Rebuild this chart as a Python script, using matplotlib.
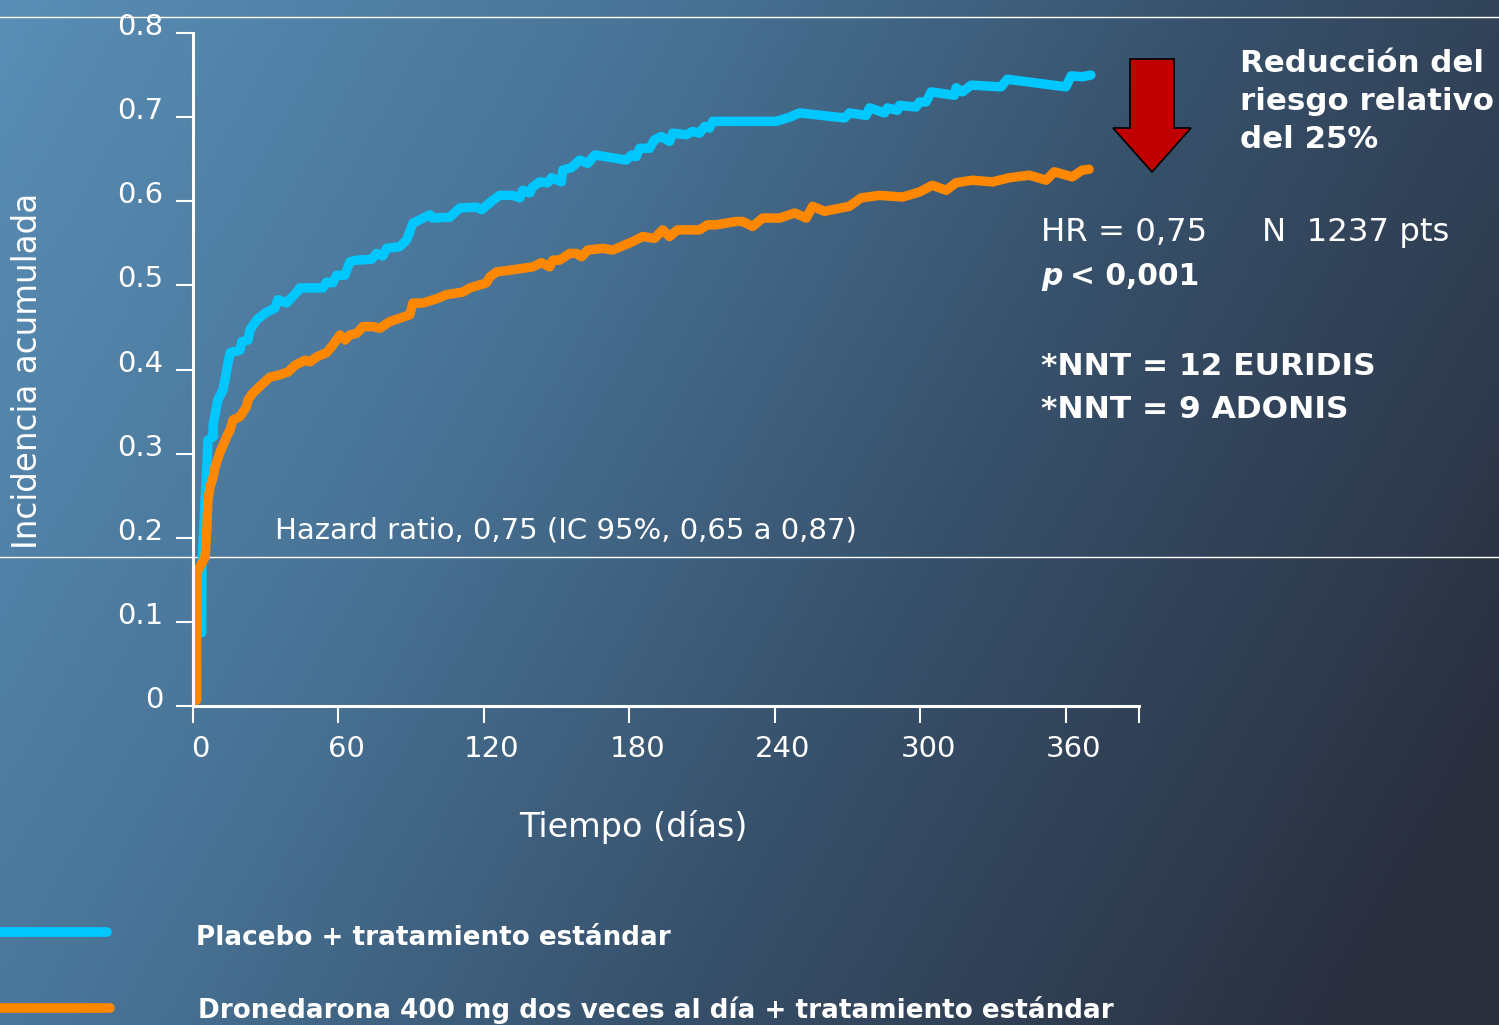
import numpy as np
import matplotlib
matplotlib.use('Agg')
import matplotlib.pyplot as plt
from matplotlib.patches import Polygon
from matplotlib.transforms import ScaledTranslation

# cumulative incidence
placebo_days = [3.7, 3.8, 5.1, 5.8, 6.3, 8.4, 8.4, 10.4,
                12.5, 15.4, 19.5, 20.2, 22.8, 23.6, 26.4, 29.8, 33.9, 35.1,
                38.7, 42.9, 44.2, 53.7, 55.2, 57.8, 59.3, 62.7, 64.8, 67.6,
                73.8, 75.8, 78.4, 79.9, 85.4, 88.2, 90.8, 93.7, 97.8, 99.0,
                106.0, 110.1, 117.0, 119.1, 123.7, 126.6, 132.0, 134.9, 136.1, 139.0,
                140.2, 143.1, 146.4, 147.9, 152.0, 152.6, 156.2, 159.6, 162.9, 165.8,
                178.8, 180.9, 182.9, 184.3, 188.4, 190.4, 193.2, 196.6, 197.9, 203.5,
                206.1, 209.0, 211.1, 213.1, 214.4, 222.6, 240.6, 246.2, 250.2, 268.8,
                270.8, 277.7, 279.1, 285.3, 286.5, 290.6, 291.4, 298.3, 299.7, 302.4,
                304.5, 314.1, 314.8, 317.4, 321.0, 333.3, 335.9, 360.1, 362.2, 366.8,
                370.4]
placebo_inc = [0.087, 0.165, 0.245, 0.284, 0.316, 0.320, 0.334, 0.364,
               0.376, 0.420, 0.423, 0.433, 0.435, 0.447, 0.459, 0.467, 0.473, 0.483,
               0.479, 0.492, 0.497, 0.497, 0.504, 0.503, 0.512, 0.512, 0.528, 0.530,
               0.531, 0.538, 0.535, 0.544, 0.546, 0.554, 0.574, 0.578, 0.584, 0.580,
               0.581, 0.592, 0.593, 0.590, 0.601, 0.607, 0.607, 0.604, 0.613, 0.610,
               0.617, 0.623, 0.622, 0.628, 0.623, 0.637, 0.640, 0.649, 0.645, 0.655,
               0.649, 0.655, 0.653, 0.663, 0.663, 0.673, 0.677, 0.671, 0.681, 0.679,
               0.683, 0.681, 0.689, 0.687, 0.695, 0.695, 0.695, 0.700, 0.705, 0.699,
               0.705, 0.702, 0.711, 0.705, 0.711, 0.708, 0.714, 0.712, 0.718, 0.718,
               0.730, 0.726, 0.735, 0.730, 0.738, 0.736, 0.745, 0.736, 0.749, 0.748,
               0.750]

drone_days = [1.6, 1.6, 5.1, 5.8, 6.3, 7.1, 8.4, 9.2, 11.2, 14.0,
              15.4, 16.6, 19.5, 22.2, 22.8, 24.8, 28.4, 31.9, 35.1, 39.3,
              42.2, 46.3, 48.3, 51.1, 55.2, 57.3, 60.7, 62.8, 64.8, 67.6,
              70.2, 74.3, 77.2, 81.3, 89.5, 90.8, 94.9, 100.5, 104.7, 111.4,
              114.3, 121.1, 122.5, 125.3, 130.7, 140.2, 143.8, 147.2, 148.5, 151.3,
              155.5, 158.2, 160.3, 162.9, 169.1, 173.2, 181.4, 185.5, 190.5, 193.8,
              196.6, 199.9, 209.0, 212.3, 215.9, 224.1, 226.7, 230.9, 235.0, 242.0,
              248.2, 253.0, 255.6, 260.5, 270.8, 275.6, 283.2, 292.7, 299.7, 305.0,
              310.7, 314.8, 321.5, 329.8, 336.8, 345.0, 351.9, 355.3, 362.7, 366.8,
              369.6]
drone_inc = [0.007, 0.158, 0.177, 0.209, 0.245, 0.260, 0.272, 0.284, 0.301, 0.320,
             0.328, 0.340, 0.344, 0.356, 0.364, 0.372, 0.382, 0.391, 0.393, 0.397,
             0.405, 0.411, 0.409, 0.415, 0.420, 0.427, 0.441, 0.435, 0.441, 0.443,
             0.451, 0.451, 0.449, 0.457, 0.465, 0.479, 0.479, 0.484, 0.489, 0.492,
             0.497, 0.503, 0.510, 0.516, 0.518, 0.522, 0.527, 0.522, 0.530, 0.530,
             0.538, 0.538, 0.534, 0.542, 0.544, 0.542, 0.552, 0.558, 0.556, 0.566,
             0.558, 0.566, 0.566, 0.572, 0.572, 0.576, 0.576, 0.570, 0.580, 0.580,
             0.586, 0.580, 0.594, 0.588, 0.594, 0.604, 0.607, 0.605, 0.611, 0.619,
             0.613, 0.622, 0.625, 0.623, 0.628, 0.631, 0.625, 0.635, 0.629, 0.637,
             0.638]

x_ticks = [0, 60, 120, 180, 240, 300, 360]
y_ticks = [0, 0.1, 0.2, 0.3, 0.4, 0.5, 0.6, 0.7, 0.8]
y_tick_labels = ['0', '0.1', '0.2', '0.3', '0.4', '0.5', '0.6', '0.7', '0.8']

BLUE = '#00c8ff'
ORANGE = '#ff8800'
W, H = 1499, 1025

plt.rcParams['font.family'] = 'DejaVu Sans'


def fx(px):
    return px / W


def fy(py):
    return 1 - py / H


fig = plt.figure(figsize=(W / 100, H / 100), dpi=100)

# background gradient (steel blue top-left -> dark slate bottom-right)
bg = fig.add_axes([0, 0, 1, 1], zorder=-1)
bg.axis('off')
xx, yy = np.meshgrid(np.linspace(0, 1, 300), np.linspace(0, 1, 205))
t = np.clip(0.78 * xx + 0.3 * yy, 0, 1)
stops = [0, 0.35, 0.65, 1]
r = np.interp(t, stops, [90, 72, 55, 42])
g = np.interp(t, stops, [142, 115, 80, 47])
b = np.interp(t, stops, [182, 150, 106, 62])
bg.imshow(np.dstack([r, g, b]) / 255, aspect='auto', extent=[0, 1, 0, 1])
bg.set_xlim(0, 1)
bg.set_ylim(0, 1)
bg.axhline(fy(17), color='white', lw=1)
bg.axhline(fy(557), color='white', lw=1)

# red arrow
arrow = [(1130, 59), (1174, 59), (1174, 128), (1191, 128), (1152, 172),
         (1113, 128), (1130, 128)]
bg.add_patch(Polygon([(fx(a), fy(c)) for a, c in arrow], closed=True,
                     facecolor='#c00000', edgecolor='black', lw=1.2))

# legend lines
bg.plot([0, fx(107)], [fy(932), fy(932)], color=BLUE, lw=7, solid_capstyle='round')
bg.plot([0, fx(110)], [fy(1008), fy(1008)], color=ORANGE, lw=7, solid_capstyle='round')

ax = fig.add_axes([fx(192.7), fy(706), fx(1138.5) - fx(192.7), fy(33) - fy(706)], zorder=1)
ax.patch.set_alpha(0)
ax.plot(placebo_days, placebo_inc, color=BLUE, lw=6.8, solid_capstyle='round',
        solid_joinstyle='round', clip_on=False)
ax.plot(drone_days, drone_inc, color=ORANGE, lw=6.8, solid_capstyle='round',
        solid_joinstyle='round', clip_on=False)

ax.set_xlim(0, 390)
ax.set_ylim(0, 0.8)
ax.set_xticks(x_ticks + [390])
ax.set_xticklabels([str(v) for v in x_ticks] + [''])
ax.set_yticks(y_ticks)
ax.set_yticklabels(y_tick_labels)
for s in ['top', 'right']:
    ax.spines[s].set_visible(False)
for s in ['left', 'bottom']:
    ax.spines[s].set_color('white')
    ax.spines[s].set_linewidth(2.2)
ax.tick_params(colors='white', length=12, width=1.5, direction='out', pad=9, labelsize=21)

up = ScaledTranslation(0, 9 / 100, fig.dpi_scale_trans)
for lbl in ax.get_yticklabels():
    lbl.set_transform(lbl.get_transform() + up)
right = ScaledTranslation(8 / 100, 0, fig.dpi_scale_trans)
for lbl in ax.get_xticklabels():
    lbl.set_transform(lbl.get_transform() + right)

# axis titles
fig.text(fx(28), fy(371), 'Incidencia acumulada', rotation=90, color='white',
         fontsize=23.5, ha='center', va='center')
fig.text(fx(633), fy(837), 'Tiempo (días)', color='white', fontsize=24,
         ha='center', va='baseline')
fig.text(fx(275), fy(539), 'Hazard ratio, 0,75 (IC 95%, 0,65 a 0,87)', color='white',
         fontsize=21, va='baseline')

# annotations on the right
for txt, base in [('Reducción del', 72), ('riesgo relativo', 110.5), ('del 25%', 148.5)]:
    fig.text(fx(1240), fy(base), txt, color='white', fontsize=22.2,
             fontweight='bold', va='baseline')
fig.text(fx(1041), fy(240.7), 'HR = 0,75', color='white', fontsize=23.3, va='baseline')
fig.text(fx(1262), fy(240.7), 'N  1237 pts', color='white', fontsize=23.3, va='baseline')
fig.text(fx(1041), fy(285), 'p', color='white', fontsize=21.5, fontweight='bold',
         fontstyle='italic', va='baseline')
fig.text(fx(1070), fy(285), '< 0,001', color='white', fontsize=21.5, fontweight='bold',
         va='baseline')
fig.text(fx(1041), fy(375), '*NNT = 12 EURIDIS', color='white', fontsize=22.5,
         fontweight='bold', va='baseline')
fig.text(fx(1041), fy(418.3), '*NNT = 9 ADONIS', color='white', fontsize=22.5,
         fontweight='bold', va='baseline')

# legend text
fig.text(fx(196), fy(945), 'Placebo + tratamiento estándar', color='white',
         fontsize=18.9, fontweight='bold', va='baseline')
fig.text(fx(198), fy(1018.3), 'Dronedarona 400 mg dos veces al día + tratamiento estándar',
         color='white', fontsize=18.9, fontweight='bold', va='baseline')

fig.savefig('out.png', dpi=100)
